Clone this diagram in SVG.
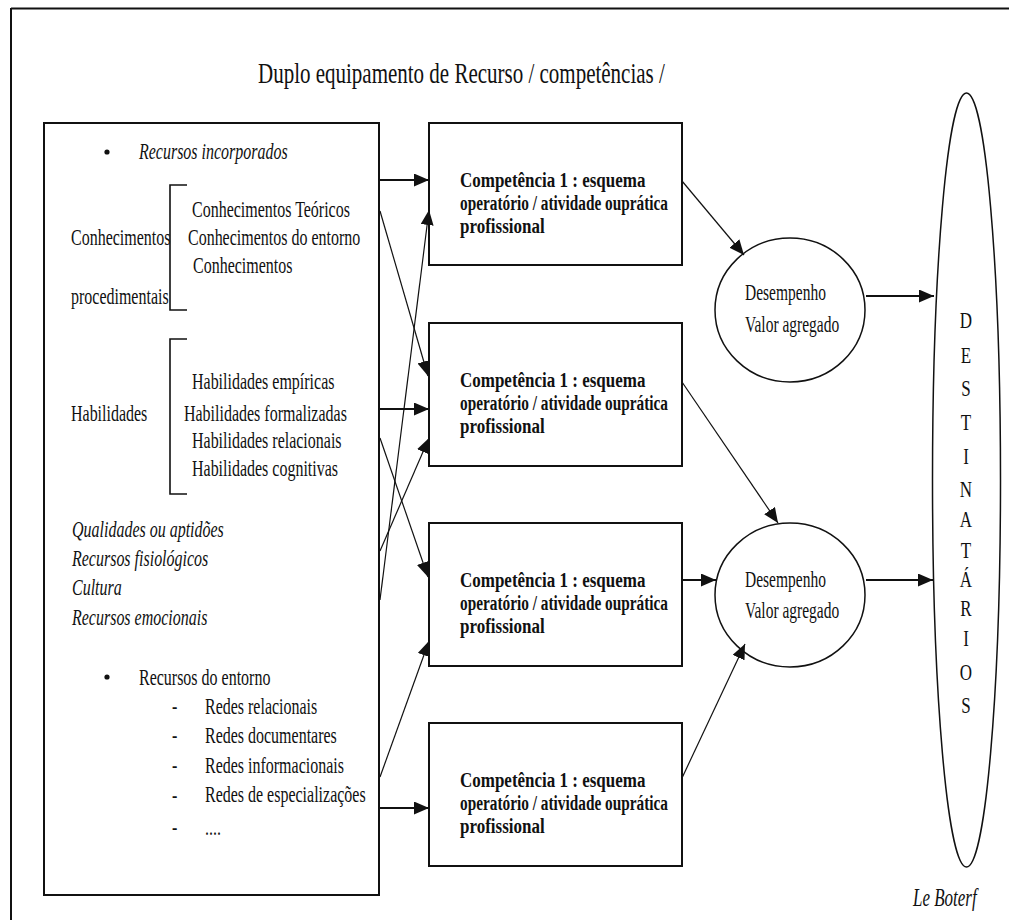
<svg xmlns="http://www.w3.org/2000/svg" width="1009" height="920" viewBox="0 0 1009 920">
<style>
text{font-family:"Liberation Serif","Times New Roman",serif;fill:#111;transform-box:fill-box;transform-origin:0 100%;transform:scaleY(1.45)}
.r{font-size:16px}
.i{font-size:16px;font-style:italic}
.t{font-size:21px}
.b{font-size:17px;font-weight:bold;transform:scaleY(1.2)}
.e{font-size:15.5px}
.l{font-size:17px;text-anchor:middle;transform:scaleY(1.3)}
.sh{fill:#fff;stroke:#111;stroke-width:2}
.el{fill:#fff;stroke:#111;stroke-width:1.5}
.br{fill:none;stroke:#111;stroke-width:1.6}
.c{fill:none;stroke:#111;stroke-width:1.2;marker-end:url(#ah)}
.ch{fill:none;stroke:#111;stroke-width:2;marker-end:url(#ah)}
</style>
<defs>
<marker id="ah" markerUnits="userSpaceOnUse" markerWidth="15" markerHeight="13" refX="15" refY="6.5" orient="auto">
<path d="M0,0 L15,6.5 L0,13 z" fill="#111"/>
</marker>
</defs>
<rect width="1009" height="920" fill="#fff"/>
<g id="frame">
<line x1="11" y1="8.5" x2="1009" y2="8.5" stroke="#111" stroke-width="2"/>
<line x1="11" y1="8" x2="11" y2="920" stroke="#111" stroke-width="2"/>
</g>
<g id="title"><text class="t" x="258" y="85">Duplo equipamento de Recurso / competências /</text></g>

<g id="resources">
<rect class="sh" x="44" y="123" width="335" height="772"/>
<circle cx="107" cy="152" r="2.6" fill="#111"/>
<text class="i" x="139" y="161">Recursos incorporados</text>
<path class="br" d="M187,185 H170 V310 H187"/>
<text class="r" x="71" y="246">Conhecimentos</text>
<text class="r" x="71" y="306">procedimentais</text>
<text class="r" x="192" y="218">Conhecimentos Teóricos</text>
<text class="r" x="188" y="246">Conhecimentos do entorno</text>
<text class="r" x="193" y="274">Conhecimentos</text>
<path class="br" d="M187,339 H170 V494 H187"/>
<text class="r" x="71" y="422">Habilidades</text>
<text class="r" x="192" y="391">Habilidades empíricas</text>
<text class="r" x="184" y="422">Habilidades formalizadas</text>
<text class="r" x="192" y="449">Habilidades relacionais</text>
<text class="r" x="192" y="478">Habilidades cognitivas</text>
<text class="i" x="72" y="539">Qualidades ou aptidões</text>
<text class="i" x="72" y="568">Recursos fisiológicos</text>
<text class="i" x="72" y="596">Cultura</text>
<text class="i" x="72" y="626">Recursos emocionais</text>
<circle cx="107" cy="677" r="2.6" fill="#111"/>
<text class="r" x="139" y="686">Recursos do entorno</text>
<text class="r" x="172" y="715">-</text>
<text class="r" x="205" y="715">Redes relacionais</text>
<text class="r" x="172" y="744">-</text>
<text class="r" x="205" y="744">Redes documentares</text>
<text class="r" x="172" y="774">-</text>
<text class="r" x="205" y="774">Redes informacionais</text>
<text class="r" x="172" y="804">-</text>
<text class="r" x="205" y="804">Redes de especializações</text>
<text class="r" x="172" y="836">-</text>
<text class="r" x="205" y="836">....</text>
</g>

<g id="comp1">
<rect class="sh" x="429" y="123" width="253" height="142"/>
<text class="b" x="460" y="188">Competência 1 : esquema</text>
<text class="b" x="460" y="211" textLength="208" lengthAdjust="spacingAndGlyphs">operatório / atividade ouprática</text>
<text class="b" x="460" y="234">profissional</text>
</g>
<g id="comp2">
<rect class="sh" x="429" y="323" width="253" height="143"/>
<text class="b" x="460" y="388">Competência 1 : esquema</text>
<text class="b" x="460" y="411" textLength="208" lengthAdjust="spacingAndGlyphs">operatório / atividade ouprática</text>
<text class="b" x="460" y="434">profissional</text>
</g>
<g id="comp3">
<rect class="sh" x="429" y="523" width="253" height="143"/>
<text class="b" x="460" y="588">Competência 1 : esquema</text>
<text class="b" x="460" y="611" textLength="208" lengthAdjust="spacingAndGlyphs">operatório / atividade ouprática</text>
<text class="b" x="460" y="634">profissional</text>
</g>
<g id="comp4">
<rect class="sh" x="429" y="723" width="253" height="143"/>
<text class="b" x="460" y="788">Competência 1 : esquema</text>
<text class="b" x="460" y="811" textLength="208" lengthAdjust="spacingAndGlyphs">operatório / atividade ouprática</text>
<text class="b" x="460" y="834">profissional</text>
</g>

<g id="desempenho1">
<ellipse class="el" cx="790" cy="310" rx="75" ry="72"/>
<text class="e" x="745" y="301">Desempenho</text>
<text class="e" x="745" y="333">Valor agregado</text>
</g>
<g id="desempenho2">
<ellipse class="el" cx="790" cy="595" rx="75" ry="72"/>
<text class="e" x="745" y="588">Desempenho</text>
<text class="e" x="745" y="619">Valor agregado</text>
</g>

<g id="destinatarios">
<ellipse class="el" cx="966.5" cy="480" rx="34" ry="387"/>
<text class="l" x="966" y="329">D</text>
<text class="l" x="966" y="364">E</text>
<text class="l" x="966" y="397">S</text>
<text class="l" x="966" y="431">T</text>
<text class="l" x="966" y="465">I</text>
<text class="l" x="966" y="498">N</text>
<text class="l" x="966" y="528">A</text>
<text class="l" x="966" y="559">T</text>
<text class="l" x="966" y="588">Á</text>
<text class="l" x="966" y="617">R</text>
<text class="l" x="966" y="647">I</text>
<text class="l" x="966" y="681">O</text>
<text class="l" x="966" y="714">S</text>
</g>
<g id="author"><text class="i" x="913" y="908" style="font-size:17px">Le Boterf</text></g>

<g id="connectors">
<path class="ch" d="M379,180 L429,180"/>
<path class="c" d="M380,211 L428,376"/>
<path class="ch" d="M379,409 L429,409"/>
<path class="c" d="M380,438 L428,577"/>
<path class="c" d="M380,551 L429,438"/>
<path class="c" d="M380,600 L429,210"/>
<path class="c" d="M380,777 L429,641"/>
<path class="ch" d="M379,808 L429,808"/>
<path class="c" d="M682,181 L744,255"/>
<path class="c" d="M682,382 L778,523"/>
<path class="ch" d="M682,580 L716,580"/>
<path class="c" d="M682,778 L745,644"/>
<path class="ch" d="M866,296 L934,296"/>
<path class="ch" d="M866,580 L933,580"/>
</g>
</svg>
